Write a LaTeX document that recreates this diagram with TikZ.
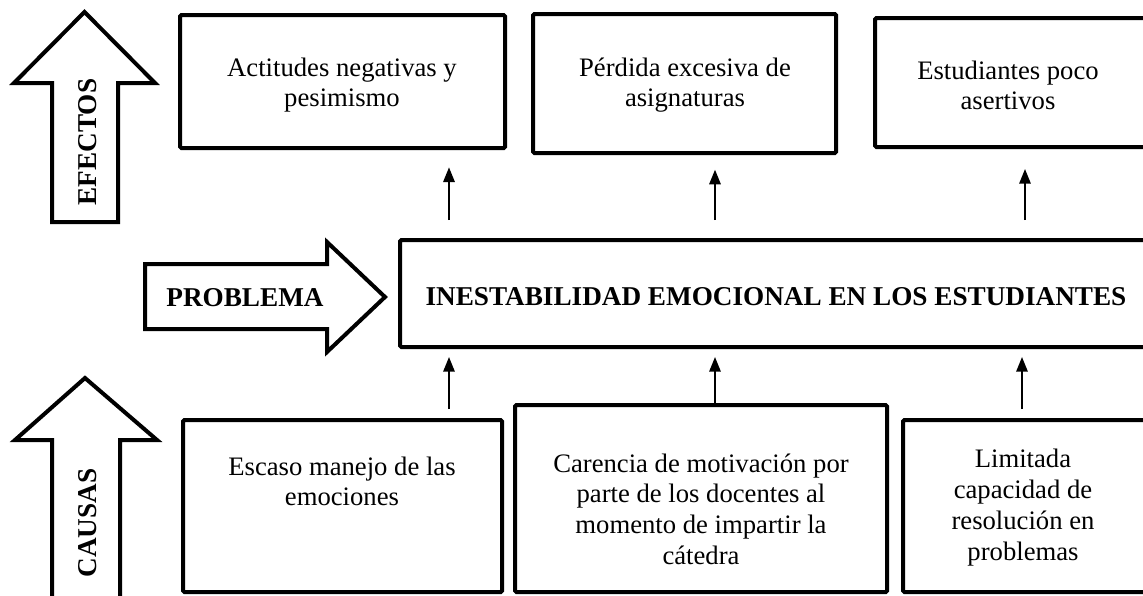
\documentclass[tikz,border=0pt]{standalone}
\usepackage{fontspec}
\setmainfont{Liberation Serif}
\usetikzlibrary{arrows.meta}
\begin{document}
\begin{tikzpicture}[x=0.75pt,y=-0.75pt,
  box/.style={draw,line width=3pt,rounded corners=1pt,inner sep=0pt},
  txt/.style={align=center,inner sep=0pt,font=\fontsize{20}{22.5}\selectfont},
  bigarrow/.style={draw,line width=3pt,line join=miter,fill=white},
  lbl/.style={inner sep=0pt,font=\fontsize{20.4}{24}\selectfont\bfseries},
  arr/.style={line width=1.5pt,-{Triangle[length=11pt,width=8.5pt]}}]
\clip (0,0) rectangle (1143,596);
\fill[white] (0,0) rectangle (1143,596);
% big arrows
\draw[bigarrow] (52,222) -- (52,83) -- (14,83) -- (84.5,12) -- (155,83) -- (118,83) -- (118,222) -- cycle;
\node[lbl,rotate=90] (efectos) at (88,142) {EFECTOS};
\draw[bigarrow] (145,264) -- (327,264) -- (327,242) -- (385,297) -- (327,352) -- (327,329) -- (145,329) -- cycle;
\node[lbl] (problema) at (245,298) {PROBLEMA};
\draw[bigarrow] (52,610) -- (52,440) -- (15,440) -- (85,378) -- (157,440) -- (120,440) -- (120,610) -- cycle;
\node[lbl,rotate=90] (causas) at (88,523) {CAUSAS};
% effect boxes
\node[box,minimum width=243.75pt,minimum height=99.75pt] (e1) at (342.5,81.5) {};
\node[txt] (e1t) at (342,85.5) {Actitudes negativas y\\pesimismo};
\node[box,minimum width=227.25pt,minimum height=104.25pt] (e2) at (684.5,83.5) {};
\node[txt] (e2t) at (685,85.5) {Pérdida excesiva de\\asignaturas};
\node[box,minimum width=206.25pt,minimum height=96.75pt] (e3) at (1012.5,82.5) {};
\node[txt] (e3t) at (1008,85.5) {Estudiantes poco\\asertivos};
% problem box
\node[box,minimum width=562.5pt,minimum height=80.25pt] (main) at (775,293.5) {};
\node[lbl] (maint) at (776,297) {INESTABILIDAD EMOCIONAL EN LOS ESTUDIANTES};
% cause boxes
\node[box,minimum width=239.25pt,minimum height=129pt] (c1) at (342.5,506) {};
\node[txt] (c1t) at (342,481.5) {Escaso manejo de las\\emociones};
\node[box,minimum width=279pt,minimum height=140.25pt] (c2) at (701,498.5) {};
\node[txt,font=\fontsize{20}{23}\selectfont] (c2t) at (701,509) {Carencia de motivación por\\parte de los docentes al\\momento de impartir la\\cátedra};
\node[box,minimum width=185.25pt,minimum height=129pt] (c3) at (1026.5,506) {};
\node[txt,font=\fontsize{20}{23.25}\selectfont] (c3t) at (1023,508) {Limitada\\capacidad de\\resolución en\\problemas};
% small arrows
\coordinate (u1) at (449,220);
\coordinate (u2) at (715,220);
\coordinate (u3) at (1025,220);
\draw[arr,shorten >=13pt] (u1) -- (u1 |- e1.south);
\draw[arr,shorten >=11pt] (u2) -- (u2 |- e2.south);
\draw[arr,shorten >=15pt] (u3) -- (u3 |- e3.south);
\coordinate (d1) at (449,409);
\coordinate (d2) at (715,406);
\coordinate (d3) at (1022,409);
\draw[arr,shorten >=6pt] (d1) -- (d1 |- main.south);
\draw[arr,shorten >=6pt] (d2) -- (d2 |- main.south);
\draw[arr,shorten >=6pt] (d3) -- (d3 |- main.south);
\end{tikzpicture}
\end{document}
